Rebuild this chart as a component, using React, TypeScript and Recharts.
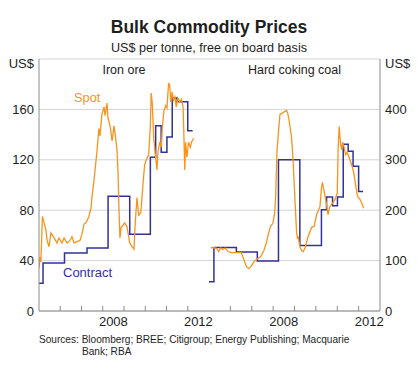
import React from 'react';
import { LineChart, Line, XAxis, YAxis, CartesianGrid } from 'recharts';

// ---- Data (year fraction, US$ per tonne) ----
const ironSpotT = [2005.0, 2005.05, 2005.09, 2005.16, 2005.24, 2005.33, 2005.38, 2005.47, 2005.56, 2005.71, 2005.85, 2005.94, 2006.08, 2006.18, 2006.32, 2006.46, 2006.55, 2006.65, 2006.79, 2006.93, 2007.02, 2007.12, 2007.21, 2007.35, 2007.45, 2007.49, 2007.59, 2007.68, 2007.73, 2007.82, 2007.87, 2007.96, 2008.06, 2008.11, 2008.2, 2008.25, 2008.34, 2008.44, 2008.53, 2008.58, 2008.67, 2008.72, 2008.76, 2008.81, 2008.86, 2009.03, 2009.14, 2009.27, 2009.38, 2009.47, 2009.53, 2009.61, 2009.69, 2009.79, 2009.89, 2009.97, 2010.05, 2010.16, 2010.24, 2010.28, 2010.33, 2010.4, 2010.47, 2010.55, 2010.6, 2010.68, 2010.76, 2010.8, 2010.88, 2010.96, 2011.02, 2011.1, 2011.15, 2011.2, 2011.26, 2011.32, 2011.39, 2011.46, 2011.54, 2011.62, 2011.7, 2011.78, 2011.81, 2011.86, 2011.9, 2011.96, 2012.04, 2012.12, 2012.2, 2012.28];
const ironSpotV = [34, 43, 39, 75, 70, 64, 56, 51, 62, 58, 54, 58, 54, 58, 54, 56, 59, 54, 55, 56, 61, 69, 70, 75, 82, 90, 104, 119, 127, 145, 139, 156, 162, 155, 165, 153, 147, 135, 147, 141, 128, 110, 82, 58, 66, 70, 67, 54, 51, 49, 70, 90, 76, 78, 100, 116, 120, 124, 147, 173, 165, 137, 125, 112, 126, 134, 130, 145, 159, 163, 161, 181, 179, 166, 174, 167, 170, 162, 169, 166, 168, 162, 145, 112, 134, 122, 134, 130, 135, 137];

const ironContractT = [2005.0, 2005.19, 2006.2, 2007.26, 2008.25, 2009.27, 2010.24, 2010.49, 2010.75, 2011.02, 2011.27, 2011.5, 2012.0, 2012.23];
const ironContractV = [22, 38, 46, 50, 91, 61, 122, 147, 126, 138, 169, 166, 143, 143];

const coalSpotT = [2005.08, 2005.34, 2005.45, 2005.55, 2005.65, 2005.76, 2005.89, 2006.04, 2006.51, 2006.64, 2006.74, 2006.86, 2006.98, 2007.1, 2007.26, 2007.42, 2007.57, 2007.68, 2007.79, 2007.88, 2007.99, 2008.07, 2008.12, 2008.14, 2008.18, 2008.24, 2008.32, 2008.44, 2008.55, 2008.63, 2008.68, 2008.75, 2008.86, 2008.94, 2009.02, 2009.1, 2009.14, 2009.17, 2009.25, 2009.33, 2009.41, 2009.49, 2009.64, 2009.8, 2009.92, 2010.03, 2010.19, 2010.27, 2010.31, 2010.39, 2010.5, 2010.57, 2010.65, 2010.78, 2010.89, 2011.0, 2011.04, 2011.09, 2011.15, 2011.2, 2011.25, 2011.31, 2011.39, 2011.46, 2011.56, 2011.64, 2011.72, 2011.79, 2011.87, 2011.95, 2012.06, 2012.16, 2012.24];
const coalSpotV = [126, 125, 118, 125, 122, 125, 118, 116, 116, 101, 89, 84, 89, 98, 103, 108, 120, 135, 155, 168, 174, 194, 227, 260, 317, 350, 390, 393, 396, 398, 393, 378, 345, 295, 221, 155, 143, 148, 128, 120, 118, 125, 148, 166, 168, 191, 207, 247, 255, 237, 211, 191, 207, 214, 221, 234, 320, 366, 333, 320, 335, 327, 310, 315, 304, 294, 284, 270, 247, 227, 222, 213, 204];

const coalContractT = [2005.0, 2005.23, 2006.28, 2007.26, 2008.25, 2009.25, 2010.26, 2010.5, 2010.78, 2011.01, 2011.28, 2011.51, 2011.74, 2012.0, 2012.21];
const coalContractV = [58, 126, 117, 99, 300, 130, 201, 226, 209, 226, 331, 317, 287, 237, 237];

const yearTicks = [2006, 2007, 2008, 2009, 2010, 2011, 2012];
const yearLabels = [2008, 2012];
const ironTicks = [0, 40, 80, 120, 160];
const coalTicks = [0, 100, 200, 300, 400];

const toRows = (t: number[], v: number[]) => t.map((x, i) => ({ t: x, v: v[i] }));
const ironSpot = toRows(ironSpotT, ironSpotV);
const ironContract = toRows(ironContractT, ironContractV);
const coalSpot = toRows(coalSpotT, coalSpotV);
const coalContract = toRows(coalContractT, coalContractV);
const xTicks = [...yearTicks, ...yearLabels.map((y) => y + 0.5)];

const FONT = '"Liberation Sans", Arial, Helvetica, sans-serif';
const AXIS = '#8c8c8c';
const GRID = '#d4d4d4';
const ORANGE = '#F7941D';
const BLUE = '#323296';
const TEXT = '#1e1e1e';

function YearTick(props: any) {
  const { x, y, payload } = props;
  const v = payload.value;
  if (Number.isInteger(v)) {
    return <line x1={x} x2={x} y1={y} y2={y - 5} stroke={AXIS} strokeWidth={1} />;
  }
  return (
    <text x={x} y={y + 15} textAnchor="middle" fontSize={13} fill={TEXT} fontFamily={FONT}>
      {Math.floor(v)}
    </text>
  );
}

const abs: React.CSSProperties = { position: 'absolute', left: 0, top: 0 };

export default function App() {
  return (
    <div style={{ position: 'absolute', left: 0, top: 0, width: 417, height: 378, background: '#fff', fontFamily: FONT }}>
      <div style={abs}>
        <LineChart width={417} height={378} margin={{ top: 59, right: 208, bottom: 37, left: 0 }}>
          <CartesianGrid horizontal vertical={false} stroke={GRID} />
          <XAxis xAxisId="top" orientation="top" type="number" domain={[2005, 2013]} height={0} tick={false} tickLine={false} axisLine={{ stroke: AXIS }} />
          <XAxis type="number" dataKey="t" domain={[2005, 2013]} ticks={xTicks} interval={0} height={30} tickSize={0} tickMargin={0} tickLine={false} axisLine={{ stroke: AXIS }} tick={<YearTick />} allowDataOverflow />
          <YAxis domain={[0, 200]} ticks={ironTicks} width={39} tickSize={0} tickMargin={5} tickLine={false} axisLine={{ stroke: AXIS }} tick={{ fontSize: 13, fill: TEXT, fontFamily: FONT }} />
          <YAxis yAxisId="edge" orientation="right" width={0} domain={[0, 1]} tick={false} tickLine={false} axisLine={{ stroke: AXIS }} />
          <Line data={ironContract} dataKey="v" type="stepAfter" stroke={BLUE} strokeWidth={1.5} dot={false} isAnimationActive={false} />
          <Line data={ironSpot} dataKey="v" type="linear" stroke={ORANGE} strokeWidth={1.3} dot={false} isAnimationActive={false} />
        </LineChart>
      </div>
      <div style={abs}>
        <LineChart width={417} height={378} margin={{ top: 59, right: 0, bottom: 37, left: 209 }}>
          <CartesianGrid horizontal vertical={false} stroke={GRID} />
          <XAxis xAxisId="top" orientation="top" type="number" domain={[2005, 2013]} height={0} tick={false} tickLine={false} axisLine={{ stroke: AXIS }} />
          <XAxis type="number" dataKey="t" domain={[2005, 2013]} ticks={xTicks} interval={0} height={30} tickSize={0} tickMargin={0} tickLine={false} axisLine={{ stroke: AXIS }} tick={<YearTick />} allowDataOverflow />
          <YAxis orientation="right" domain={[0, 500]} ticks={coalTicks} width={37} tickSize={0} tickMargin={5} tickLine={false} axisLine={{ stroke: AXIS }} tick={{ fontSize: 13, fill: TEXT, fontFamily: FONT, textAnchor: 'start' }} />
          <YAxis yAxisId="edge" orientation="left" width={0} domain={[0, 1]} tick={false} tickLine={false} axisLine={{ stroke: AXIS }} />
          <Line data={coalContract} dataKey="v" type="stepAfter" stroke={BLUE} strokeWidth={1.5} dot={false} isAnimationActive={false} />
          <Line data={coalSpot} dataKey="v" type="linear" stroke={ORANGE} strokeWidth={1.3} dot={false} isAnimationActive={false} />
        </LineChart>
      </div>
      <svg width={417} height={378} style={{ ...abs, pointerEvents: 'none' }}>
        <g fontFamily={FONT}>
          <text x={209} y={33} textAnchor="middle" fontSize={17.5} fontWeight="bold" fill={TEXT}>Bulk Commodity Prices</text>
          <text x={209} y={52} textAnchor="middle" fontSize={12.6} fill={TEXT}>US$ per tonne, free on board basis</text>
          <text x={34} y={68} textAnchor="end" fontSize={13} fill={TEXT}>US$</text>
          <text x={385} y={68} textAnchor="start" fontSize={13} fill={TEXT}>US$</text>
          <text x={124} y={73.5} textAnchor="middle" fontSize={12.5} fill={TEXT}>Iron ore</text>
          <text x={294.5} y={73.5} textAnchor="middle" fontSize={12.5} fill={TEXT}>Hard coking coal</text>
          <text x={74} y={102} fontSize={12.8} fill={ORANGE}>Spot</text>
          <text x={63} y={277} fontSize={13} fill={BLUE}>Contract</text>
          <text x={39} y={343} fontSize={10.1} fill={TEXT}>Sources: Bloomberg; BREE; Citigroup; Energy Publishing; Macquarie</text>
          <text x={82} y={354.5} fontSize={10.1} fill={TEXT}>Bank; RBA</text>
        </g>
      </svg>
    </div>
  );
}
